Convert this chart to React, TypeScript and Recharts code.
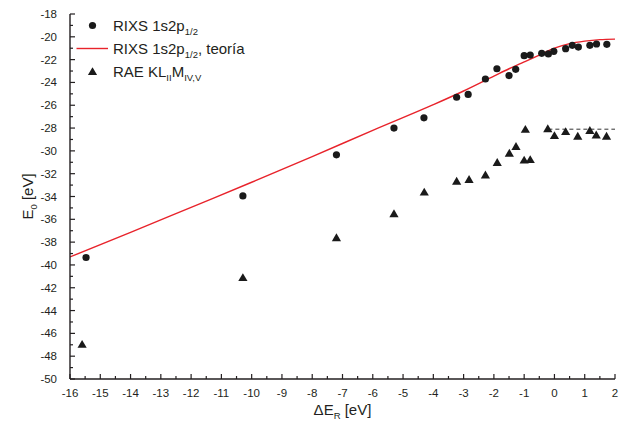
import React from 'react';
import { ComposedChart, XAxis, YAxis, Line, Scatter, Legend } from 'recharts';

// RIXS 1s2p1/2 (circles)
const rixsX = [-15.47, -10.29, -7.2, -5.3, -4.31, -3.23, -2.85, -2.28, -1.9, -1.5, -1.28, -1.0, -0.8, -0.42, -0.2, -0.02, 0.37, 0.59, 0.79, 1.17, 1.39, 1.73];
const rixsY = [-39.35, -33.95, -30.35, -28.0, -27.1, -25.3, -25.05, -23.7, -22.8, -23.4, -22.85, -21.65, -21.6, -21.45, -21.5, -21.27, -21.04, -20.75, -20.9, -20.75, -20.63, -20.66];

// RAE KL_II M_IV,V (triangles)
const raeX = [-15.6, -10.29, -7.2, -5.3, -4.3, -3.23, -2.82, -2.28, -1.89, -1.49, -1.27, -1.0, -0.8, -0.96, -0.22, 0.0, 0.37, 0.77, 1.17, 1.38, 1.72];
const raeY = [-46.95, -41.1, -37.6, -35.5, -33.6, -32.65, -32.5, -32.1, -31.0, -30.2, -29.6, -30.8, -30.75, -28.1, -28.05, -28.65, -28.3, -28.7, -28.2, -28.6, -28.7];

// RIXS 1s2p1/2 theory (red curve)
const theoryX = [-16, -14, -12, -10, -8, -6, -4, -3, -2, -1.5, -1, -0.5, 0, 0.5, 1, 1.5, 2];
const theoryY = [-39.3, -37.15, -34.95, -32.75, -30.5, -28.2, -25.95, -24.75, -23.45, -22.8, -22.2, -21.6, -21.0, -20.6, -20.38, -20.25, -20.2];

// dashed reference level
const dashX = [-0.2, 2];
const dashY = [-28.1, -28.1];

const xMajor = [-16, -15, -14, -13, -12, -11, -10, -9, -8, -7, -6, -5, -4, -3, -2, -1, 0, 1, 2];
const xMinor = [-15.5, -14.5, -13.5, -12.5, -11.5, -10.5, -9.5, -8.5, -7.5, -6.5, -5.5, -4.5, -3.5, -2.5, -1.5, -0.5, 0.5, 1.5];
const yMajor = [-50, -48, -46, -44, -42, -40, -38, -36, -34, -32, -30, -28, -26, -24, -22, -20, -18];
const yMinor = [-49, -47, -45, -43, -41, -39, -37, -35, -33, -31, -29, -27, -25, -23, -21, -19];

const zip = (xs: number[], ys: number[]) => xs.map((x, i) => ({ x, y: ys[i] }));
const rixsData = zip(rixsX, rixsY);
const raeData = zip(raeX, raeY);
const theoryData = zip(theoryX, theoryY);
const dashData = zip(dashX, dashY);

const FONT = '"Liberation Sans", Arial, sans-serif';
const INK = '#231f20';
const MAJ = 5;
const MIN = 3;

const isMajorX = (v: number) => Number.isInteger(v);
const isMajorY = (v: number) => Math.abs(v) % 2 === 0;

const BottomTick = (p: any) => {
  const v = p.payload.value;
  const major = isMajorX(v);
  return (
    <g>
      <line x1={p.x} x2={p.x} y1={p.y} y2={p.y - (major ? MAJ : MIN)} stroke={INK} strokeWidth={1.2} />
      {major && (
        <text x={p.x} y={p.y + 18} textAnchor="middle" fontSize={11.5} fill={INK} fontFamily={FONT}>
          {v}
        </text>
      )}
    </g>
  );
};

const TopTick = (p: any) => {
  const v = p.payload.value;
  const major = isMajorX(v);
  return <line x1={p.x} x2={p.x} y1={p.y} y2={p.y + (major ? MAJ : MIN)} stroke={INK} strokeWidth={1.2} />;
};

const LeftTick = (p: any) => {
  const v = p.payload.value;
  const major = isMajorY(v);
  return (
    <g>
      <line x1={p.x} x2={p.x + (major ? MAJ : MIN)} y1={p.y} y2={p.y} stroke={INK} strokeWidth={1.2} />
      {major && (
        <text x={p.x - 13} y={p.y + 4} textAnchor="end" fontSize={11.5} fill={INK} fontFamily={FONT}>
          {v}
        </text>
      )}
    </g>
  );
};

const RightTick = (p: any) => {
  const v = p.payload.value;
  const major = isMajorY(v);
  return <line x1={p.x} x2={p.x - (major ? MAJ : MIN)} y1={p.y} y2={p.y} stroke={INK} strokeWidth={1.2} />;
};

const Dot = (p: any) => <circle cx={p.cx} cy={p.cy} r={3.6} fill="#1a1a1a" />;
const Tri = (p: any) => (
  <path d={`M${p.cx},${p.cy - 4.3} L${p.cx + 4.6},${p.cy + 3.6} L${p.cx - 4.6},${p.cy + 3.6} Z`} fill="#1a1a1a" />
);

const YTitle = (p: any) => {
  const vb = p.viewBox;
  const cx = 33;
  const cy = vb.y + vb.height / 2;
  return (
    <text transform={`translate(${cx},${cy}) rotate(-90)`} textAnchor="middle" fontSize={15} fill={INK} fontFamily={FONT}>
      E<tspan fontSize={9.5} dy={4}>0</tspan>
      <tspan dy={-4}> [eV]</tspan>
    </text>
  );
};

const XTitle = (p: any) => {
  const vb = p.viewBox;
  const cx = vb.x + vb.width / 2;
  return (
    <text x={cx} y={415} textAnchor="middle" fontSize={15} fill={INK} fontFamily={FONT}>
      ΔE<tspan fontSize={9.5} dy={4}>R</tspan>
      <tspan dy={-4}> [eV]</tspan>
    </text>
  );
};

const sub: React.CSSProperties = { fontSize: 9.5, position: 'relative', top: 4 };

const LegendBox = () => {
  const row: React.CSSProperties = { display: 'flex', alignItems: 'center', height: 23, whiteSpace: 'nowrap' };
  const txt: React.CSSProperties = { fontFamily: FONT, fontSize: 15, color: INK };
  return (
    <div>
      <div style={row}>
        <svg width={41} height={23}>
          <circle cx={20.5} cy={11.5} r={3.6} fill="#1a1a1a" />
        </svg>
        <span style={txt}>RIXS 1s2p<span style={sub}>1/2</span></span>
      </div>
      <div style={row}>
        <svg width={41} height={23}>
          <line x1={4.5} x2={36} y1={11.5} y2={11.5} stroke="#e8232b" strokeWidth={1.4} />
        </svg>
        <span style={txt}>RIXS 1s2p<span style={sub}>1/2</span>, teoría</span>
      </div>
      <div style={row}>
        <svg width={41} height={23}>
          <path d="M20.5,7.2 L25.1,15.1 L15.9,15.1 Z" fill="#1a1a1a" />
        </svg>
        <span style={txt}>RAE KL<span style={sub}>II</span>M<span style={sub}>IV,V</span></span>
      </div>
    </div>
  );
};

export default function App() {
  return (
    <div style={{ position: 'absolute', left: 0, top: 0, width: 626, height: 432, background: '#fff' }}>
      <ComposedChart width={626} height={432} margin={{ top: 14, right: 11, bottom: 0, left: 0 }}>
        <XAxis
          xAxisId="b"
          dataKey="x"
          type="number"
          orientation="bottom"
          domain={[-16, 2]}
          allowDataOverflow
          ticks={[...xMajor, ...xMinor]}
          interval={0}
          height={53}
          tickSize={0}
          tickMargin={0}
          tickLine={false}
          tick={<BottomTick />}
          axisLine={{ stroke: INK, strokeWidth: 1.4 }}
          label={<XTitle />}
        />
        <XAxis
          xAxisId="t"
          dataKey="x"
          type="number"
          orientation="top"
          domain={[-16, 2]}
          allowDataOverflow
          ticks={[...xMajor, ...xMinor]}
          interval={0}
          height={0}
          tickSize={0}
          tickMargin={0}
          tickLine={false}
          tick={<TopTick />}
          axisLine={{ stroke: INK, strokeWidth: 1.4 }}
        />
        <YAxis
          yAxisId="l"
          type="number"
          orientation="left"
          domain={[-50, -18]}
          allowDataOverflow
          ticks={[...yMajor, ...yMinor]}
          interval={0}
          width={70}
          tickSize={0}
          tickMargin={0}
          tickLine={false}
          tick={<LeftTick />}
          axisLine={{ stroke: INK, strokeWidth: 1.4 }}
          label={<YTitle />}
        />
        <YAxis
          yAxisId="r"
          type="number"
          orientation="right"
          domain={[-50, -18]}
          allowDataOverflow
          ticks={[...yMajor, ...yMinor]}
          interval={0}
          width={0}
          tickSize={0}
          tickMargin={0}
          tickLine={false}
          tick={<RightTick />}
          axisLine={{ stroke: INK, strokeWidth: 1.4 }}
        />
        <Line
          xAxisId="b"
          yAxisId="l"
          data={theoryData}
          dataKey="y"
          type="monotone"
          stroke="#e8232b"
          strokeWidth={1.4}
          dot={false}
          activeDot={false}
          isAnimationActive={false}
        />
        <Line
          xAxisId="b"
          yAxisId="l"
          data={dashData}
          dataKey="y"
          type="linear"
          stroke="#333"
          strokeWidth={1}
          strokeDasharray="4 3"
          dot={false}
          activeDot={false}
          isAnimationActive={false}
        />
        <Scatter xAxisId="b" yAxisId="l" data={rixsData} dataKey="y" shape={<Dot />} isAnimationActive={false} />
        <Scatter xAxisId="b" yAxisId="l" data={raeData} dataKey="y" shape={<Tri />} isAnimationActive={false} />
        <Legend
          layout="vertical"
          align="center"
          verticalAlign="middle"
          content={<LegendBox />}
          wrapperStyle={{ left: 72, top: 14, width: 'auto', height: 'auto' }}
        />
      </ComposedChart>
    </div>
  );
}
